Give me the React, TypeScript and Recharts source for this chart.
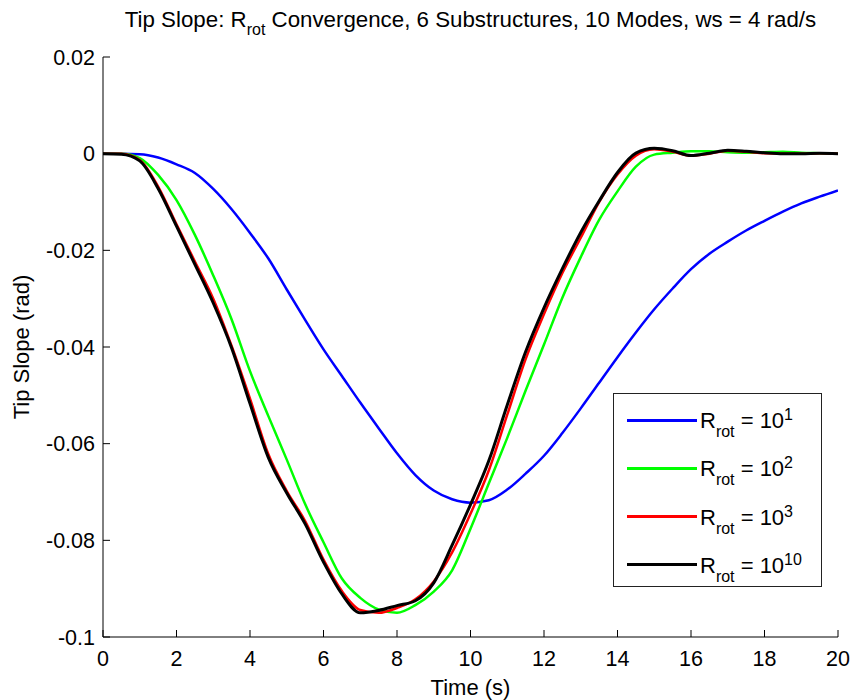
import React from 'react';
import { LineChart, Line, XAxis, YAxis, Label } from 'recharts';

const time = [0, 0.5, 1, 1.5, 2, 2.5, 3, 3.5, 4, 4.5, 5, 5.5, 6, 6.5, 7, 7.5, 8, 8.5, 9, 9.5, 10, 10.5, 11, 11.5, 12, 12.5, 13, 13.5, 14, 14.5, 15, 15.5, 16, 16.5, 17, 17.5, 18, 18.5, 19, 19.5, 20];

const rot1 = [0, 0, -0.0001, -0.0008, -0.0022, -0.004, -0.0073, -0.0115, -0.0164, -0.0217, -0.0281, -0.0344, -0.0405, -0.046, -0.0515, -0.0568, -0.062, -0.0665, -0.0697, -0.0715, -0.0722, -0.0717, -0.0695, -0.0662, -0.0625, -0.0578, -0.0527, -0.0474, -0.0421, -0.037, -0.0322, -0.0279, -0.0239, -0.0207, -0.0182, -0.0159, -0.0139, -0.012, -0.0103, -0.0089, -0.0076];

const rot2 = [0, 0, -0.0009, -0.0044, -0.0096, -0.0168, -0.0252, -0.0343, -0.045, -0.0543, -0.0633, -0.0725, -0.0804, -0.0879, -0.0919, -0.0943, -0.095, -0.0934, -0.0906, -0.0862, -0.0776, -0.0682, -0.0588, -0.049, -0.0395, -0.0298, -0.0214, -0.0137, -0.0078, -0.0027, -0.0002, 0.0002, 0.0005, 0.0005, 0.0003, 0.0002, 0.0003, 0.0004, 0.0002, 0.0001, 0];

const rot3 = [0, 0, -0.0013, -0.0068, -0.0146, -0.0223, -0.03, -0.0398, -0.0507, -0.0622, -0.0698, -0.076, -0.084, -0.0905, -0.0944, -0.095, -0.094, -0.0922, -0.0885, -0.0825, -0.0745, -0.0655, -0.054, -0.0425, -0.0332, -0.0247, -0.0174, -0.01, -0.0043, -0.0004, 0.0009, 0.0004, -0.0004, 0, 0.0006, 0.0004, 0.0001, 0, 0, 0.0001, 0];

const rot10 = [0, -0.0001, -0.0015, -0.0072, -0.015, -0.0229, -0.0309, -0.0402, -0.0517, -0.0629, -0.0702, -0.0766, -0.0845, -0.0911, -0.095, -0.0945, -0.0935, -0.0925, -0.0888, -0.081, -0.0726, -0.0635, -0.052, -0.041, -0.0319, -0.0238, -0.0163, -0.0098, -0.0039, 0.0001, 0.0011, 0.0006, -0.0004, 0.0001, 0.0007, 0.0005, 0.0002, 0, 0, 0.0001, 0];

const xTicks = [0, 2, 4, 6, 8, 10, 12, 14, 16, 18, 20];
const yTicks = [-0.1, -0.08, -0.06, -0.04, -0.02, 0, 0.02];

const seriesKeys = ['rot1', 'rot2', 'rot3', 'rot10'];
const seriesColors = ['#0000ff', '#00ff00', '#ff0000', '#000000'];
const seriesExponents = ['1', '2', '3', '10'];
const seriesWidths = [2.5, 2.5, 2.5, 3];

const data = time.map((t, i) => ({
  t,
  rot1: rot1[i],
  rot2: rot2[i],
  rot3: rot3[i],
  rot10: rot10[i],
}));

const FONT = 'Arial, "Liberation Sans", Helvetica, sans-serif';
const TICK_LEN = 7;
const TICK_FS = 21.5;
const BOTTOM_MARGIN = 14;
const LEFT_MARGIN = 8;

const fmtY = (v: number) => String(Number(v.toFixed(2)));

const BottomTick = (props: any) => {
  const { x, y, payload } = props;
  const base = y - BOTTOM_MARGIN;
  return (
    <g>
      <line x1={x} x2={x} y1={base} y2={base - TICK_LEN} stroke="#000" strokeWidth={1} />
      <text x={x} y={y} dy="0.71em" textAnchor="middle" fontSize={TICK_FS} fontFamily={FONT} fill="#000">
        {payload.value}
      </text>
    </g>
  );
};

const LeftTick = (props: any) => {
  const { x, y, payload } = props;
  const base = x + LEFT_MARGIN;
  return (
    <g>
      <line x1={base} x2={base + TICK_LEN} y1={y} y2={y} stroke="#000" strokeWidth={1} />
      <text x={x} y={y} dy="0.355em" textAnchor="end" fontSize={TICK_FS} fontFamily={FONT} fill="#000">
        {fmtY(payload.value)}
      </text>
    </g>
  );
};

const TopTick = (props: any) => {
  const { x, y } = props;
  return <line x1={x} x2={x} y1={y} y2={y + TICK_LEN} stroke="#000" strokeWidth={1} />;
};

const RightTick = (props: any) => {
  const { x, y } = props;
  return <line x1={x} x2={x - TICK_LEN} y1={y} y2={y} stroke="#000" strokeWidth={1} />;
};

const LegendBox = () => (
  <div
    style={{
      position: 'absolute',
      left: 613,
      top: 393,
      width: 209,
      height: 194,
      boxSizing: 'border-box',
      border: '1px solid #222',
      background: '#fff',
      fontFamily: FONT,
      color: '#000',
    }}
  >
    {seriesKeys.map((k, i) => {
      const cy = 26 + 48.3 * i;
      return (
        <React.Fragment key={k}>
          <div
            style={{
              position: 'absolute',
              left: 13,
              top: cy - 1.5,
              width: 70,
              height: 3,
              background: seriesColors[i],
            }}
          />
          <svg style={{ position: 'absolute', left: 84, top: cy - 26, overflow: 'visible' }} width={120} height={50}>
            <text x={2} y={34} fontSize={22} fontFamily={FONT} fill="#000">
              R
              <tspan fontSize={16} dy={9}>rot</tspan>
              <tspan fontSize={22} dy={-9}>{' = 10'}</tspan>
              <tspan fontSize={16} dy={-8}>{seriesExponents[i]}</tspan>
            </text>
          </svg>
        </React.Fragment>
      );
    })}
  </div>
);

export default function App() {
  return (
    <div style={{ position: 'absolute', left: 0, top: 0, width: 856, height: 700, background: '#fff' }}>
      <LineChart
        width={856}
        height={700}
        data={data}
        margin={{ top: 57, right: 18, bottom: 0, left: 0 }}
      >
        <XAxis
          dataKey="t"
          type="number"
          domain={[0, 20]}
          ticks={xTicks}
          interval={0}
          allowDataOverflow
          height={63}
          tickSize={0}
          tickLine={false}
          tickMargin={BOTTOM_MARGIN}
          tick={<BottomTick />}
          axisLine={{ stroke: '#000', strokeWidth: 1 }}
        >
          <Label
            value="Time (s)"
            position="insideBottom"
            offset={5}
            style={{ fontSize: 22, fontFamily: FONT, fill: '#000' }}
          />
        </XAxis>
        <XAxis
          xAxisId="top"
          orientation="top"
          dataKey="t"
          type="number"
          domain={[0, 20]}
          ticks={xTicks}
          interval={0}
          allowDataOverflow
          height={0}
          tickSize={0}
          tickLine={false}
          tickMargin={0}
          tick={<TopTick />}
          axisLine={{ stroke: '#000', strokeWidth: 1 }}
        />
        <YAxis
          type="number"
          domain={[-0.1, 0.02]}
          ticks={yTicks}
          interval={0}
          allowDataOverflow
          width={103}
          tickSize={0}
          tickLine={false}
          tickMargin={LEFT_MARGIN}
          tick={<LeftTick />}
          axisLine={{ stroke: '#000', strokeWidth: 1 }}
        />
        <YAxis
          yAxisId="right"
          orientation="right"
          type="number"
          domain={[-0.1, 0.02]}
          ticks={yTicks}
          interval={0}
          allowDataOverflow
          width={0}
          tickSize={0}
          tickLine={false}
          tickMargin={0}
          tick={<RightTick />}
          axisLine={{ stroke: '#000', strokeWidth: 1 }}
        />
        {seriesKeys.map((k, i) => (
          <Line
            key={k}
            dataKey={k}
            type="monotone"
            stroke={seriesColors[i]}
            strokeWidth={seriesWidths[i]}
            dot={false}
            activeDot={false}
            isAnimationActive={false}
          />
        ))}
      </LineChart>
      <LegendBox />
      <svg
        width={856}
        height={700}
        style={{ position: 'absolute', left: 0, top: 0, pointerEvents: 'none' }}
      >
        <text x={470.5} y={27} textAnchor="middle" fontSize={22.3} fontFamily={FONT} fill="#000">
          Tip Slope: R
          <tspan fontSize={16} dy={8}>rot</tspan>
          <tspan fontSize={22.3} dy={-8}>{' Convergence, 6 Substructures, 10 Modes, ws = 4 rad/s'}</tspan>
        </text>
        <text
          transform="translate(29,347) rotate(-90)"
          textAnchor="middle"
          fontSize={22}
          fontFamily={FONT}
          fill="#000"
        >
          Tip Slope (rad)
        </text>
      </svg>
    </div>
  );
}
